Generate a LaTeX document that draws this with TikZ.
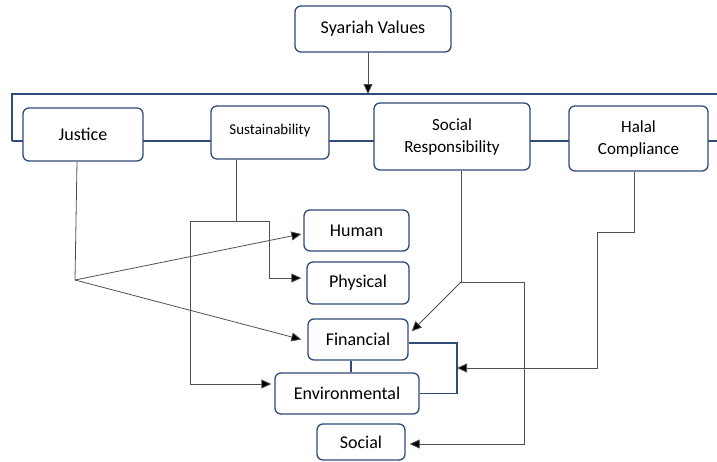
\documentclass[tikz,border=0pt]{standalone}
\usepackage{fontspec}
\setmainfont{Carlito}
\usetikzlibrary{arrows.meta,backgrounds,calc}
\definecolor{boxblue}{HTML}{2F4A78}
\definecolor{lineg}{HTML}{505050}
\tikzset{
  box/.style={draw=boxblue, line width=1.3pt, rounded corners=6pt, fill=white,
    align=center, inner sep=0pt, font=\fontsize{18}{20}\selectfont},
  conn/.style={draw=lineg, line width=0.8pt},
  arr/.style={conn, -{Triangle[length=10pt,width=9pt,fill=black]}},
  blueline/.style={draw=boxblue, line width=1.3pt}
}
\begin{document}
\begin{tikzpicture}[x=1pt,y=-1pt]
\useasboundingbox (0,0) rectangle (717,461);
% nodes
\node[box, minimum width=156, minimum height=46] (syariah) at (373,29) {Syariah Values};
\node[box, minimum width=120, minimum height=53] (justice) at (83,134.5) {Justice};
\node[box, minimum width=118, minimum height=53, font=\fontsize{15}{17}\selectfont] (sustain) at (270,132.5) {\raisebox{6pt}{Sustainability}};
\node[box, minimum width=156, minimum height=67, font=\fontsize{17}{22}\selectfont] (socresp) at (452,136.5) {Social\\Responsibility};
\node[box, minimum width=139, minimum height=65, font=\fontsize{17}{22}\selectfont] (halal) at (638.5,138.5) {Halal\\Compliance};
\node[box, minimum width=105, minimum height=41] (human) at (356.5,230.5) {Human};
\node[box, minimum width=102, minimum height=42] (physical) at (358,283) {Physical};
\node[box, minimum width=100, minimum height=41] (financial) at (358,339.5) {Financial};
\node[box, minimum width=144, minimum height=41] (environ) at (347,393.5) {Environmental};
\node[box, minimum width=88, minimum height=36] (social) at (361,442) {Social};
% coordinates
\coordinate (bl) at (12,141);
\coordinate (tl) at (12,94);
\coordinate (tr) at (717,94);
\coordinate (mr) at (717,141);
\coordinate (sa) at (368,52);
\coordinate (sb) at (368,94);
\coordinate (jt) at (75,280);
\coordinate (st) at (236,221);
\coordinate (sl) at (190,221);
\coordinate (sr2) at (269,221);
\coordinate (sr) at (461,282);
\coordinate (srr) at (524,282);
\coordinate (h1) at (634,232);
\coordinate (h2) at (597,232);
\coordinate (fb) at (457,343);
\coordinate (fc) at (457,368);
\begin{scope}[on background layer]
\draw[blueline] (bl) -- (tl) -- (tr);
\draw[blueline] (bl) -- (mr);
\end{scope}
\draw[arr] (sa) -- (sb);
% Justice
\draw[conn] (justice.south -| 77,0) -- (jt);
\draw[arr] (jt) -- ($(human.west)+(-2,3.5)$);
\draw[arr] (jt) -- ($(financial.west)+(-6,0)$);
% Sustainability
\draw[conn] (sustain.south -| st) -- (st);
\draw[conn] (sl) -- (sr2);
\draw[arr] (sr2) |- ($(physical.west)+(-5,-5)$);
\draw[arr] (sl) |- ($(environ.west)+(-3,-9.5)$);
% Social responsibility
\draw[conn] (socresp.south -| sr) -- (sr);
\draw[arr] (sr) -- ($(financial.north east)+(3,13)$);
\draw[arr] (sr) -- (srr) |- ($(social.east)+(4,2)$);
% Halal
\draw[arr] (halal.south -| h1) -- (h1) -- (h2) |- (fc);
% Financial / Environmental bracket
\draw[blueline] (financial.south -| 351,0) -- (environ.north -| 351,0);
\draw[blueline] (financial.east |- fb) -- (fb) |- (environ.east);
\end{tikzpicture}
\end{document}
